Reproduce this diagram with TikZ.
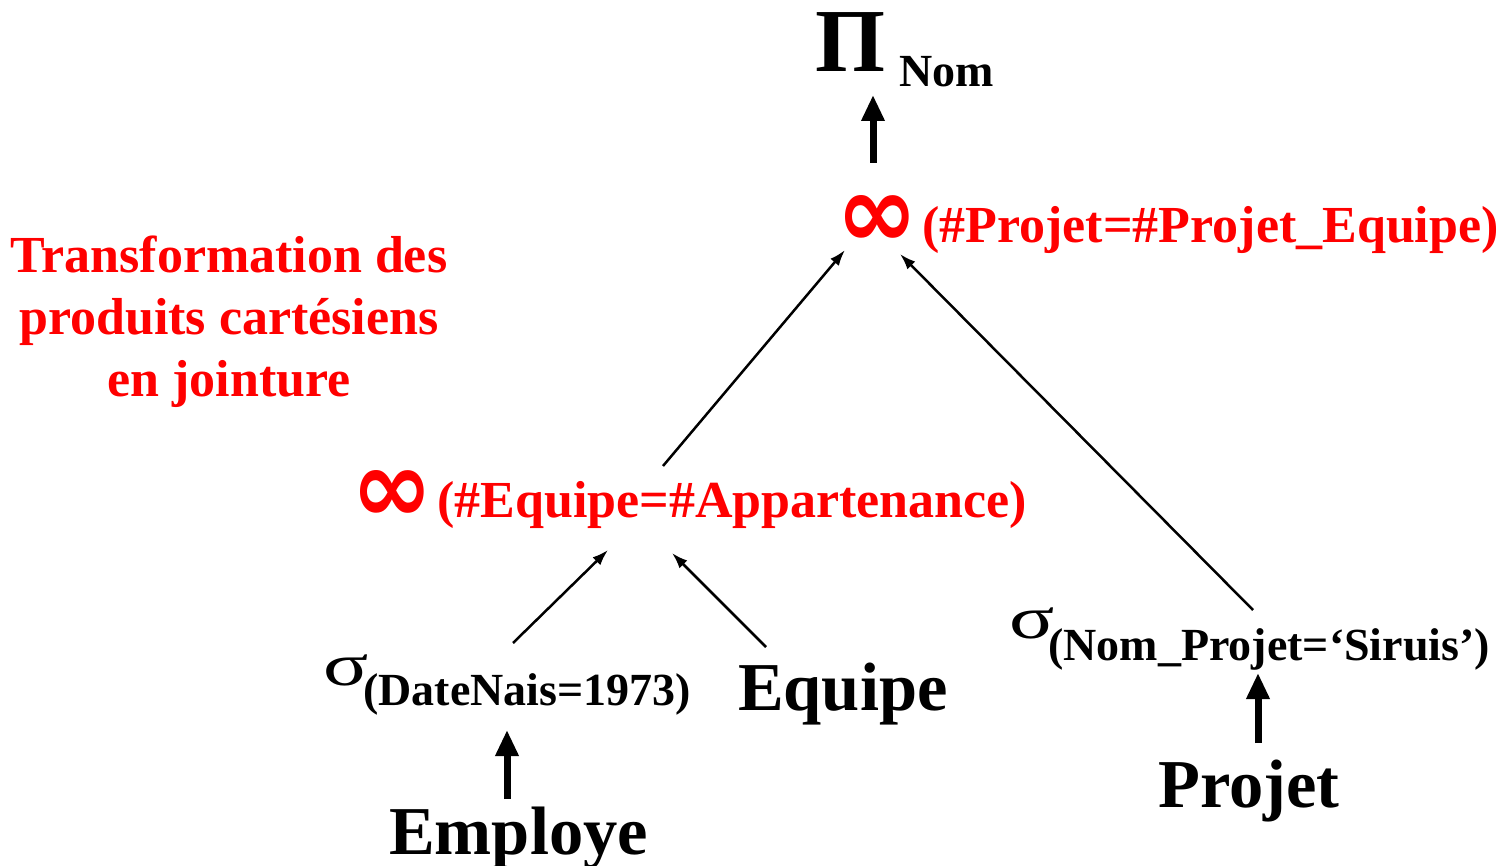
\documentclass[tikz,border=0pt]{standalone}
\usepackage{fontspec}
\usepackage{graphicx}
\setmainfont{Liberation Serif}
\newfontfamily\symfont{DejaVu Sans}
\usetikzlibrary{arrows.meta}
\definecolor{joinred}{RGB}{255,0,0}
\newcommand\joinglyph{\scalebox{1}[1.05]{\symfont\bfseries ∞}}
\newcommand\selglyph{\scalebox{1.4}[1]{σ}}
\begin{document}
\begin{tikzpicture}[x=1pt,y=-1pt,
  txt/.style={inner sep=0pt, anchor=base west},
  relation/.style={txt, font=\bfseries\fontsize{68.5}{82}\selectfont},
  condition/.style={txt, font=\bfseries\fontsize{46}{55}\selectfont},
  joincond/.style={txt, text=joinred, font=\bfseries\fontsize{52}{62}\selectfont},
  joinsym/.style={inner sep=0pt, anchor=center, text=joinred, font=\fontsize{98}{110}\selectfont},
  selsym/.style={txt, font=\fontsize{60}{72}\selectfont},
  projsym/.style={txt, font=\bfseries\fontsize{90}{108}\selectfont},
  note/.style={inner sep=0pt, anchor=center, align=center, text=joinred, font=\bfseries\fontsize{52}{62}\selectfont},
  thinarrow/.style={line width=2.5pt, -{Latex[length=16pt,width=11pt]}},
  thickarrow/.style={line width=7pt, -{Triangle[length=26pt,width=22pt]}}
]
\useasboundingbox (0,0) rectangle (1502,866);

% projection at the root
\node[projsym] (pi) at (815,72) {Π};
\node[condition] (nom) at (899,87) {Nom};

% upper join
\node[joinsym] (j1sym) at (877,222) {\joinglyph};
\node[joincond] (j1) at (922,243) {(\#Projet=\#Projet\_Equipe)};

% lower join
\node[joinsym] (j2sym) at (392,496) {\joinglyph};
\node[joincond] (j2) at (437,517) {(\#Equipe=\#Appartenance)};

% selections
\node[selsym] (sd) at (323,685) {\selglyph};
\node[condition] (sdcond) at (363,705) {(DateNais=1973)};
\node[selsym] (sp) at (1009,638) {\selglyph};
\node[condition] (spcond) at (1048,660) {(Nom\_Projet=‘Siruis’)};

% base relations
\node[relation] (emp) at (389,854) {Employe};
\node[relation] (equ) at (738,710) {Equipe};
\node[relation] (proj) at (1158,807) {Projet};

% side note
\node[note] (remark) at (229,322) {Transformation des\\produits cartésiens\\en jointure};

% connector end points
\coordinate (pi-in) at (873,95);
\coordinate (j1-out) at (873,163);
\coordinate (j1-inL) at (845,250);
\coordinate (j1-inR) at (900,254);
\coordinate (j2-out) at (663,466);
\coordinate (j2-inL) at (608,550);
\coordinate (j2-inR) at (672,553);
\coordinate (sd-out) at (513,643);
\coordinate (sd-in) at (507,730);
\coordinate (emp-out) at (507,799);
\coordinate (eq-out) at (766,647);
\coordinate (sp-out) at (1253,610);
\coordinate (sp-in) at (1258,673);
\coordinate (proj-out) at (1258,743);

\draw[thickarrow] (j1-out) -- (pi-in);
\draw[thinarrow] (j2-out) -- (j1-inL);
\draw[thinarrow] (sp-out) -- (j1-inR);
\draw[thinarrow] (sd-out) -- (j2-inL);
\draw[thinarrow] (eq-out) -- (j2-inR);
\draw[thickarrow] (emp-out) -- (sd-in);
\draw[thickarrow] (proj-out) -- (sp-in);
\end{tikzpicture}
\end{document}
